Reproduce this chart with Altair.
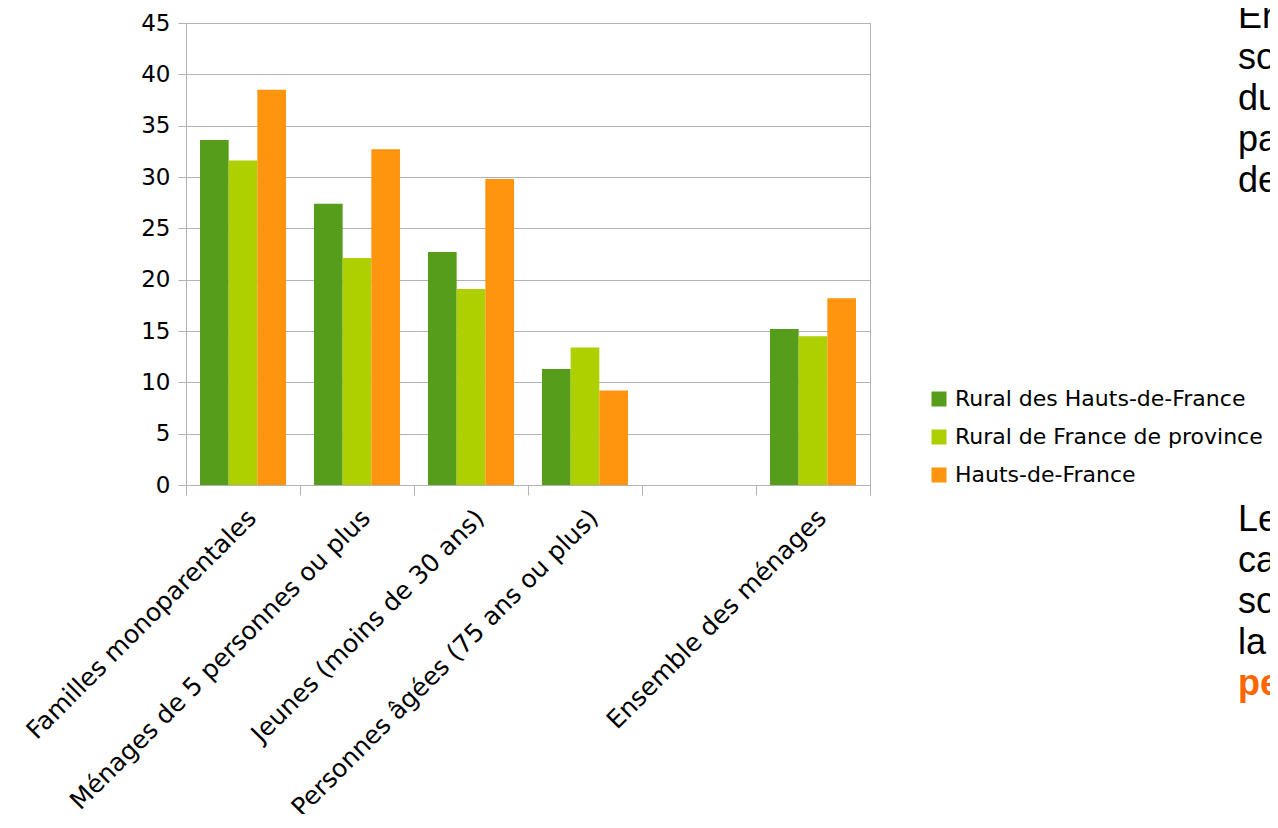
import altair as alt
import pandas as pd

categories = [
    "Familles monoparentales",
    "Ménages de 5 personnes ou plus",
    "Jeunes (moins de 30 ans)",
    "Personnes âgées (75 ans ou plus)",
    " ",
    "Ensemble des ménages",
]
series = ["Rural des Hauts-de-France", "Rural de France de province", "Hauts-de-France"]
colors = ["#579d1c", "#aecf00", "#ff950e"]

rural_hdf = [33.6, 27.4, 22.7, 11.3, None, 15.2]
rural_province = [31.6, 22.1, 19.1, 13.4, None, 14.5]
hdf = [38.5, 32.7, 29.8, 9.2, None, 18.2]

y_ticks = [0, 5, 10, 15, 20, 25, 30, 35, 40, 45]

slide_top = ["En", "so", "du", "pa", "de"]
slide_bottom = ["Le", "ca", "so", "la"]
slide_emph = ["pe"]

rows = []
for s, vals in zip(series, [rural_hdf, rural_province, hdf]):
    for c, v in zip(categories, vals):
        if v is not None:
            rows.append({"categorie": c, "serie": s, "valeur": v})
df = pd.DataFrame(rows)

GRID = "#b3b3b3"

bars = alt.Chart(df).mark_bar().encode(
    x=alt.X(
        "categorie:N",
        sort=categories,
        scale=alt.Scale(domain=categories, paddingInner=0, paddingOuter=0),
        axis=alt.Axis(
            title=None,
            labelAngle=-45,
            labelAlign="right",
            labelBaseline="top",
            labelFont="DejaVu Sans",
            labelFontSize=25,
            labelColor="#000000",
            labelPadding=10,
            labelLimit=800,
            labelOverlap=False,
            tickBand="extent",
            tickSize=10,
            tickColor=GRID,
            domainColor=GRID,
            grid=False,
        ),
    ),
    xOffset=alt.XOffset(
        "serie:N",
        sort=series,
        scale=alt.Scale(domain=series, paddingInner=0, paddingOuter=0.488),
    ),
    y=alt.Y(
        "valeur:Q",
        scale=alt.Scale(domain=[0, 45], nice=False),
        axis=alt.Axis(
            title=None,
            values=y_ticks,
            labelFont="DejaVu Sans",
            labelFontSize=23,
            labelColor="#000000",
            labelPadding=8,
            tickSize=8,
            tickColor=GRID,
            domainColor=GRID,
            gridColor=GRID,
            grid=True,
        ),
    ),
    color=alt.Color(
        "serie:N",
        sort=series,
        scale=alt.Scale(domain=series, range=colors),
        legend=alt.Legend(
            title=None,
            orient="none",
            legendX=742,
            legendY=365,
            symbolType="square",
            symbolSize=225,
            symbolStrokeWidth=0,
            labelFont="DejaVu Sans",
            labelFontSize=22,
            labelColor="#000000",
            labelOffset=5,
            rowPadding=16,
            padding=0,
            labelLimit=500,
        ),
    ),
)

top_text = (
    alt.Chart(pd.DataFrame({"t": slide_top}))
    .transform_window(row="row_number()")
    .transform_calculate(py="5 + (datum.row - 1) * 41")
    .mark_text(font="Liberation Sans", fontSize=36, align="left", baseline="alphabetic", color="#000000")
    .encode(x=alt.value(1052), y=alt.Y("py:Q", scale=None, axis=None), text="t:N")
)

bottom_text = (
    alt.Chart(pd.DataFrame({"t": slide_bottom}))
    .transform_window(row="row_number()")
    .transform_calculate(py="508 + (datum.row - 1) * 41")
    .mark_text(font="Liberation Sans", fontSize=36, align="left", baseline="alphabetic", color="#000000")
    .encode(x=alt.value(1052), y=alt.Y("py:Q", scale=None, axis=None), text="t:N")
)

emph_text = (
    alt.Chart(pd.DataFrame({"t": slide_emph}))
    .transform_window(row="row_number()")
    .transform_calculate(py="508 + (datum.row + 3) * 41")
    .mark_text(font="Liberation Sans", fontSize=36, fontWeight="bold", align="left", baseline="alphabetic", color="#ff6600")
    .encode(x=alt.value(1052), y=alt.Y("py:Q", scale=None, axis=None), text="t:N")
)

chart = (
    alt.layer(bars, top_text, bottom_text, emph_text)
    .resolve_scale(y="independent")
    .properties(
        width=684,
        height=462,
        autosize=alt.AutoSizeParams(type="none"),
        padding={"left": 178, "top": 15, "right": 400, "bottom": 329},
        background="#ffffff",
    )
    .configure_view(stroke=GRID)
)

chart.save("out.html", embed_options={"renderer": "svg", "actions": False})
